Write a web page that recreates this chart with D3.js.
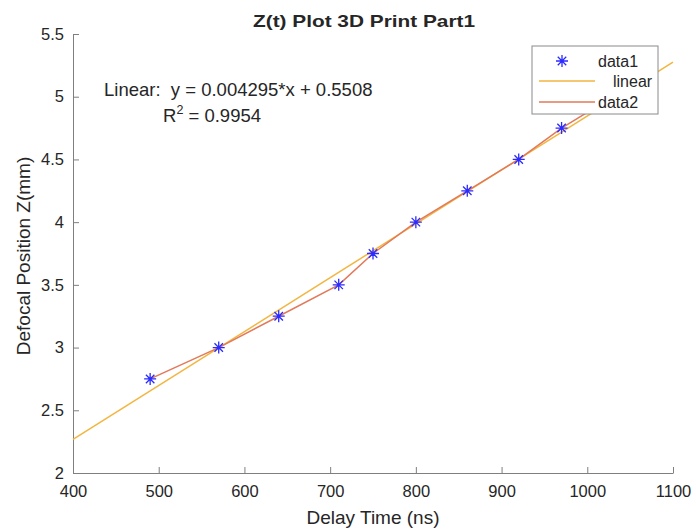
<!DOCTYPE html>
<html>
<head>
<meta charset="utf-8">
<script src="https://cdn.jsdelivr.net/npm/d3@7"></script>
<style>
  body { margin: 0; background: #fff; }
  text { font-family: "Liberation Sans", Arial, sans-serif; fill: #262626; }
</style>
</head>
<body>
<div id="chart"></div>
<script>
// measured points (data1 markers, data2 polyline)
const delay = [490, 570, 640, 710, 750, 800, 860, 920, 970, 1030]
const zpos = [2.75, 3.0, 3.25, 3.5, 3.75, 4.0, 4.25, 4.5, 4.75, 5.0]
// linear fit
const fitSlope = 0.004295, fitIntercept = 0.5508
const fitX = [400, 1100]
const xTicks = [400, 500, 600, 700, 800, 900, 1000, 1100]
const yTicks = [2, 2.5, 3, 3.5, 4, 4.5, 5, 5.5]
const legendNames = ['data1', 'linear', 'data2']

const width = 696, height = 531
const margin = {left: 73, right: 23, top: 34, bottom: 58}
const axisColor = '#7f7f7f', fitColor = '#f2b640', d2Color = '#e2795a', markColor = '#2b2bff'

const svg = d3.select('#chart').append('svg')
  .attr('width', width).attr('height', height)

const x = d3.scaleLinear().domain([400, 1100]).range([margin.left, width - margin.right])
const y = d3.scaleLinear().domain([2, 5.5]).range([height - margin.bottom, margin.top])

// axes (MATLAB style, ticks inward, no box)
const xAxis = svg.append('g')
  .attr('transform', 'translate(0,' + y(2) + ')')
  .call(d3.axisBottom(x).tickValues(xTicks).tickFormat(d3.format('d'))
    .tickSizeInner(-6).tickSizeOuter(0).tickPadding(10))
const yAxis = svg.append('g')
  .attr('transform', 'translate(' + x(400) + ',0)')
  .call(d3.axisLeft(y).tickValues(yTicks).tickFormat(d => d)
    .tickSizeInner(-6).tickSizeOuter(0).tickPadding(9))
;[xAxis, yAxis].forEach(g => {
  g.select('.domain').attr('stroke', axisColor)
  g.selectAll('.tick line').attr('stroke', axisColor)
  g.selectAll('.tick text').style('font-size', '16.5px').attr('fill', '#262626')
})
xAxis.selectAll('.tick text').attr('dy', '0.85em')

// fit line
const line = d3.line().x(d => x(d[0])).y(d => y(d[1]))
svg.append('path')
  .datum(fitX.map(v => [v, fitSlope * v + fitIntercept]))
  .attr('fill', 'none').attr('stroke', fitColor).attr('stroke-width', 1.5)
  .attr('d', line)

// data2 polyline
svg.append('path')
  .datum(delay.map((v, i) => [v, zpos[i]]))
  .attr('fill', 'none').attr('stroke', d2Color).attr('stroke-width', 1.5)
  .attr('d', line)

// star markers
const star = r => {
  const s = r * 0.707
  return `M${-r},0L${r},0M0,${-r}L0,${r}M${-s},${-s}L${s},${s}M${-s},${s}L${s},${-s}`
}
svg.append('g').selectAll('path')
  .data(delay.map((v, i) => [v, zpos[i]]))
  .join('path')
  .attr('transform', d => 'translate(' + x(d[0]) + ',' + y(d[1]) + ')')
  .attr('d', star(6)).attr('stroke', markColor).attr('stroke-width', 1.3).attr('fill', 'none')

// title and labels
svg.append('text').attr('x', 364).attr('y', 27).attr('text-anchor', 'middle')
  .style('font-size', '17px').style('font-weight', 'bold')
  .attr('textLength', 222).attr('lengthAdjust', 'spacingAndGlyphs')
  .text('Z(t) Plot 3D Print Part1')
svg.append('text').attr('x', (margin.left + width - margin.right) / 2).attr('y', 524)
  .attr('text-anchor', 'middle').style('font-size', '19px').text('Delay Time (ns)')
svg.append('text').attr('transform', 'translate(30,' + 256 + ') rotate(-90)')
  .attr('text-anchor', 'middle').style('font-size', '19px').text('Defocal Position Z(mm)')

// fit annotation
svg.append('text').attr('x', 104).attr('y', 96).style('font-size', '18.5px')
  .attr('xml:space', 'preserve')
  .text('Linear:  y = ' + fitSlope + '*x + ' + fitIntercept)
const r2 = svg.append('text').attr('x', 163).attr('y', 122).style('font-size', '18.5px')
r2.append('tspan').text('R')
r2.append('tspan').attr('dy', -8).style('font-size', '12.5px').text('2')
r2.append('tspan').attr('dy', 8).text(' = 0.9954')

// legend
const lg = svg.append('g').attr('transform', 'translate(532,46)')
lg.append('rect').attr('width', 126).attr('height', 68)
  .attr('fill', '#fff').attr('stroke', '#8a8a8a').attr('stroke-width', 1)
const rowY = [15, 35, 56]
lg.append('path').attr('transform', 'translate(30,' + rowY[0] + ')')
  .attr('d', star(6)).attr('stroke', markColor).attr('stroke-width', 1.3)
lg.append('line').attr('x1', 7).attr('x2', 63).attr('y1', rowY[1]).attr('y2', rowY[1])
  .attr('stroke', fitColor).attr('stroke-width', 1.5)
lg.append('line').attr('x1', 7).attr('x2', 63).attr('y1', rowY[2]).attr('y2', rowY[2])
  .attr('stroke', d2Color).attr('stroke-width', 1.5)
lg.selectAll('text.lab').data(legendNames).join('text').attr('class', 'lab')
  .attr('x', (d, i) => i == 1 ? 81 : 66).attr('y', (d, i) => rowY[i] + 6)
  .style('font-size', '16px').text(d => d)
</script>
</body>
</html>
